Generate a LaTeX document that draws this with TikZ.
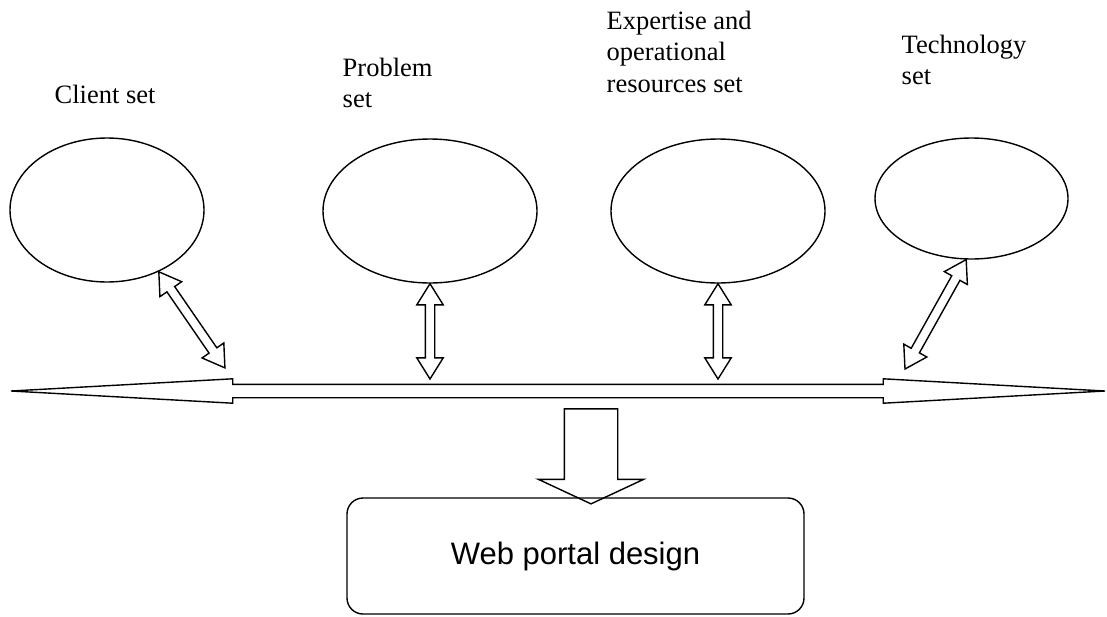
\documentclass[tikz,border=0pt]{standalone}
\usepackage{fontspec}
\setmainfont{Liberation Serif}
\newfontfamily\portalfont{Liberation Sans}
\usetikzlibrary{shapes.geometric}
\usetikzlibrary{shapes.arrows}
\usetikzlibrary{calc}

\begin{document}
\begin{tikzpicture}[
    x=1pt, y=-1pt,
    line width=1.4pt,
    setnode/.style={ellipse,draw,inner sep=0pt},
    setlabel/.style={anchor=north west,align=left,inner sep=0pt,font=\fontsize{26.5}{31.5}\selectfont},
    bus/.style={double arrow,draw,inner xsep=0pt,inner ysep=6pt,double arrow head extend=5.5pt,double arrow tip angle=6.3},
    link/.style={double arrow,draw,inner xsep=0pt,inner ysep=4pt,double arrow head extend=8.5pt,double arrow tip angle=64},
    feedarrow/.style={single arrow,draw,inner xsep=0pt,inner ysep=26pt,single arrow head extend=26pt,single arrow tip angle=130},
    portal/.style={rectangle,draw,rounded corners=16pt,font=\portalfont\fontsize{31}{36}\selectfont}
]
\useasboundingbox (0,0) rectangle (1107,616);

% the four sets
\node[setnode,minimum width=194pt,minimum height=144pt] (client) at (107,210) {};
\node[setnode,minimum width=214pt,minimum height=144pt] (problem) at (430,211) {};
\node[setnode,minimum width=214pt,minimum height=144pt] (expert) at (718,211) {};
\node[setnode,minimum width=193pt,minimum height=121pt] (tech) at (971.5,198.5) {};

\node[setlabel] (clientlbl) at (54,84) {Client set};
\node[setlabel] (problemlbl) at (342,57.4) {Problem\\set};
\node[setlabel] (expertlbl) at (606,10) {Expertise and\\operational\\resources set};
\node[setlabel] (techlbl) at (901,34) {Technology\\set};

% long two-way arrow
\node[bus,minimum height=1094pt] (busbar) at (558,391) {};

\node[portal,minimum width=457pt,minimum height=116pt] (portal) at (575.5,556) {Web portal design};

% arrow ends above the bar
\coordinate (c1) at (225,368);
\coordinate (c2) at (430,379);
\coordinate (c3) at (718,379);
\coordinate (c4) at (905,369);
\coordinate (d1) at (591,403);

\foreach \from/\to in {client.-50/c1,problem.south/c2,expert.south/c3,tech.-95/c4}
  \path let \p1=($(\to)-(\from)$), \n1={veclen(\x1,\y1)} in
    (\from) -- (\to) node[midway,sloped,link,minimum height=\n1] {};

% down to the portal
\path (d1) -- (d1 |- portal.north) node[midway,feedarrow,rotate=-90,minimum height=95pt] (feed) {};

\end{tikzpicture}
\end{document}
